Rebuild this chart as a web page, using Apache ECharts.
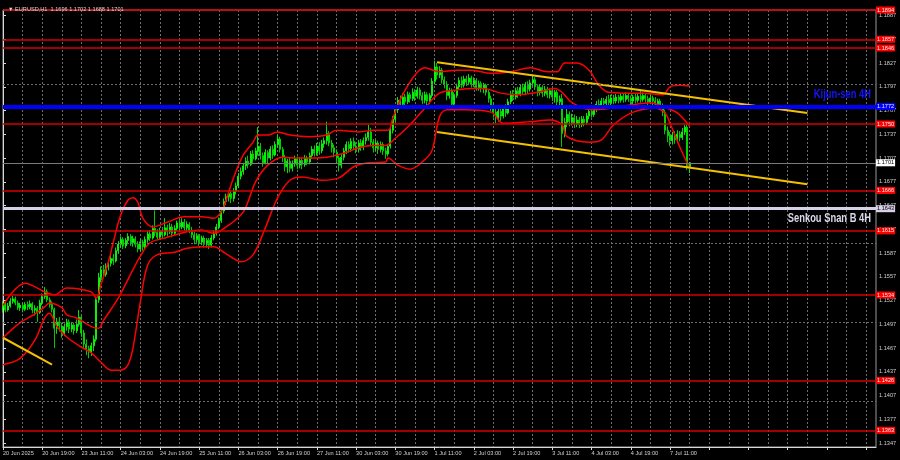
<!DOCTYPE html>
<html>
<head>
<meta charset="utf-8">
<script src="https://cdn.jsdelivr.net/npm/echarts@6/dist/echarts.min.js"></script>
<style>html,body{margin:0;padding:0;background:#000;}#c{width:900px;height:460px;}</style>
</head>
<body>
<div id="c"></div>
<script>
// ---- DATA (prices expressed in pips above 1.1000, i.e. 522 => 1.1522) ----
const SYMBOL_TITLE = 'EURUSD,H1';
const TIME_LABELS = ['20 Jun 2025','20 Jun 19:00','23 Jun 11:00','24 Jun 03:00','24 Jun 19:00','25 Jun 11:00','26 Jun 03:00','26 Jun 19:00','27 Jun 11:00','30 Jun 03:00','30 Jun 19:00','1 Jul 11:00','2 Jul 03:00','2 Jul 19:00','3 Jul 11:00','4 Jul 03:00','4 Jul 19:00','7 Jul 11:00'];
const PRICE_TICKS = [1.1887,1.1857,1.1827,1.1797,1.1767,1.1737,1.1707,1.1677,1.1647,1.1617,1.1587,1.1557,1.1527,1.1497,1.1467,1.1437,1.1407,1.1377,1.1347];
// candles: [open, close, low, high]
const CANDLES = [
[518,522,512,526],[522,515,512,525],[515,520,513,524],[520,526,518,530],[526,529,523,533],[529,524,521,532],[524,518,515,527],[518,521,514,524],
[521,516,512,524],[516,522,514,525],[522,519,515,526],[519,523,516,527],[523,515,511,525],[515,517,508,521],[517,512,500,520],[512,524,510,528],
[524,532,521,536],[532,538,529,544],[538,528,525,541],[528,522,518,531],[522,516,512,526],[516,492,467,518],[492,500,485,505],[500,495,488,506],
[495,486,480,499],[486,494,482,498],[494,500,489,504],[500,491,486,503],[491,496,487,500],[496,489,484,499],[489,497,486,503],[497,506,494,515],
[506,486,481,508],[486,472,466,490],[472,466,458,478],[466,462,454,470],[462,470,457,474],[470,478,463,483],[478,528,475,531],[528,556,524,562],
[556,566,550,570],[566,560,556,572],[560,570,557,574],[570,574,565,578],[574,580,570,585],[580,577,572,586],[577,590,575,594],[590,598,586,602],
[598,604,594,608],[604,596,592,607],[596,603,593,606],[603,608,598,612],[608,600,596,611],[600,605,595,609],[605,598,594,608],[598,592,588,602],
[592,601,589,605],[601,595,590,604],[595,604,592,608],[604,611,600,615],[611,606,602,616],[606,618,604,622],[618,613,608,641],[613,607,603,617],
[607,615,604,619],[615,610,605,620],[610,619,608,631],[619,614,608,623],[614,620,611,625],[620,612,607,624],[612,618,609,622],[618,625,615,628],
[625,620,614,629],[620,626,617,631],[626,619,615,630],[619,623,615,627],[623,616,612,626],[616,610,606,620],[610,604,598,614],[604,609,600,612],
[609,601,596,611],[601,606,597,609],[606,598,594,609],[598,603,594,606],[603,597,592,606],[597,606,594,610],[606,612,603,616],[612,620,609,624],
[620,628,617,632],[628,640,625,644],[640,652,637,656],[652,658,648,662],[658,662,652,666],[662,656,650,665],[656,665,652,669],[665,672,661,676],
[672,684,669,688],[684,690,680,695],[690,697,686,701],[697,703,692,708],[703,699,694,710],[699,712,697,716],[712,706,701,717],[706,716,704,720],
[716,722,710,746],[722,710,705,726],[710,701,696,714],[701,714,699,718],[714,707,700,717],[707,718,704,722],[718,711,706,723],[711,724,709,728],
[724,731,720,736],[731,718,714,734],[718,708,702,721],[708,696,690,711],[696,703,688,706],[703,694,689,707],[694,700,690,704],[700,706,696,710],
[706,698,693,709],[698,704,694,708],[704,699,693,707],[699,707,696,711],[707,702,698,710],[702,710,699,714],[710,718,706,722],[718,713,709,723],
[713,722,710,726],[722,716,711,727],[716,725,713,730],[725,729,720,733],[729,738,724,753],[738,726,722,741],[726,720,714,730],[720,714,708,724],
[714,707,700,718],[707,698,690,710],[698,708,694,712],[708,716,704,720],[716,724,712,728],[724,719,714,728],[719,728,715,732],[728,722,717,733],
[722,718,713,727],[718,726,714,730],[726,721,716,731],[721,729,717,733],[729,733,724,738],[733,740,729,749],[740,727,722,745],[727,720,714,731],
[720,726,716,730],[726,718,712,729],[718,724,714,728],[724,716,711,727],[716,712,706,720],[712,722,709,725],[722,742,719,746],[742,756,738,760],
[756,768,752,772],[768,780,764,784],[780,775,770,786],[775,784,772,789],[784,778,773,788],[778,787,775,791],[787,782,777,790],[782,790,779,795],
[790,785,779,794],[785,793,782,797],[793,786,781,796],[786,780,775,790],[780,787,776,791],[787,779,774,790],[779,786,775,789],[786,804,783,808],
[804,822,800,830],[822,812,806,827],[812,818,808,823],[818,806,801,821],[806,800,795,810],[800,786,780,804],[786,792,782,796],[792,775,768,795],
[775,786,772,790],[786,797,783,801],[797,805,793,809],[805,799,795,810],[799,807,796,811],[807,803,798,811],[803,808,799,813],[808,800,796,811],
[800,805,797,809],[805,796,792,808],[796,801,792,805],[801,795,790,804],[795,799,789,802],[799,790,786,801],[790,782,777,793],[782,772,766,786],
[772,765,758,777],[765,758,751,769],[758,766,753,770],[766,760,754,770],[760,770,757,774],[770,764,759,775],[764,778,762,782],[778,788,775,792],
[788,784,779,793],[784,792,781,796],[792,788,783,797],[788,796,785,800],[796,791,787,801],[791,799,788,803],[799,794,789,804],[794,802,791,806],
[802,806,798,812],[806,797,793,809],[797,790,785,800],[790,796,786,800],[796,789,784,799],[789,794,785,798],[794,787,783,797],[787,792,782,795],
[792,784,779,795],[784,790,777,793],[790,778,773,793],[778,782,772,786],[782,738,721,788],[738,752,733,758],[752,762,746,770],[762,753,747,766],
[753,758,748,763],[758,750,745,762],[750,755,746,760],[755,749,745,759],[749,756,746,760],[756,752,747,760],[752,760,749,764],[760,766,756,770],
[766,762,758,771],[762,769,759,773],[769,775,765,779],[775,771,768,781],[771,779,768,783],[779,776,771,783],[776,781,772,785],[781,777,772,787],
[777,783,773,787],[783,779,775,787],[779,784,776,788],[784,780,776,787],[780,785,777,789],[785,781,777,788],[781,786,778,790],[786,782,778,789],
[782,779,774,786],[779,784,775,787],[784,780,776,788],[780,785,777,789],[785,781,777,792],[781,786,778,790],[786,782,777,789],[782,778,773,786],
[778,783,775,787],[783,779,774,786],[779,775,771,784],[775,779,772,782],[779,772,768,782],[772,765,760,776],[765,742,737,768],[742,735,727,747],
[735,729,722,740],[729,736,724,740],[736,730,725,741],[730,737,726,742],[737,733,728,741],[733,740,730,745],[740,746,736,749],[746,696,692,749],
[696,701,688,702]
];
// Bollinger-style bands read at sample bars: [bar index, pips]
const BAND_UPPER = [[0,521],[9,549],[17,538],[21,534],[26,543],[36,538],[38,530],[40,548],[43,576],[45,601],[48,635],[51,654],[53,657],[55,651],[57,631],[61,620],[67,626],[74,633],[81,633],[86,631],[89,639],[91,654],[94,682],[98,711],[102,727],[104,736],[108,736],[112,740],[117,736],[125,734],[132,736],[136,742],[145,740],[151,742],[157,742],[159,758],[163,787],[168,812],[172,821],[178,816],[185,818],[191,818],[199,814],[207,816],[215,821],[222,816],[226,816],[229,827],[234,827],[239,818],[243,799],[247,790],[253,789],[261,789],[269,787],[272,797],[276,799],[280,798]];
const BAND_MIDDLE = [[0,480],[7,499],[13,510],[17,519],[19,524],[24,518],[26,509],[30,505],[36,494],[39,492],[41,502],[47,530],[53,566],[56,583],[60,600],[67,607],[75,614],[81,616],[86,612],[91,620],[98,639],[103,677],[108,698],[114,708],[120,707],[126,707],[132,708],[139,713],[145,720],[151,723],[156,723],[160,732],[166,749],[172,770],[178,789],[185,793],[191,795],[196,795],[203,789],[210,787],[218,790],[225,795],[228,790],[232,777],[240,768],[248,770],[256,774],[264,777],[270,771],[275,764],[280,747]];
const BAND_LOWER = [[0,446],[7,454],[13,477],[17,505],[19,511],[22,494],[26,481],[32,468],[36,461],[40,449],[44,439],[48,439],[51,446],[53,467],[56,525],[59,572],[63,585],[70,588],[75,593],[81,595],[86,595],[90,588],[93,582],[97,576],[102,585],[107,619],[112,657],[117,679],[122,683],[130,679],[137,682],[143,696],[149,701],[156,702],[157,707],[161,698],[166,693],[172,705],[175,717],[178,759],[181,768],[188,768],[199,765],[204,751],[215,753],[223,755],[228,749],[230,734],[239,727],[244,730],[249,749],[257,765],[266,770],[270,764],[272,751],[276,721],[280,694]];
// trend lines: [bar index, pips]
const TREND_UPPER = [[177,828],[328,764]];
const TREND_LOWER = [[177,740],[328,674]];
const TREND_LEFT = [[0,480],[20,446]];
// horizontal levels
const RED_LEVELS = [1.1894,1.1857,1.1846,1.1750,1.1666,1.1615,1.1534,1.1426,1.1363];
const KIJUN_LEVEL = 1.1772;
const KIJUN_TEXT = 'Kijun-sen 4H';
const SENKOU_LEVEL = 1.1643;
const SENKOU_TEXT = 'Senkou Snan B 4H';
const BID_LEVEL = 1.1701;

// ---- chart ----
const N_SLOTS = 357; // bar slots incl. right-side shift area
const P = v => +(1.1 + v / 10000).toFixed(4);
const cats = Array.from({length: N_SLOTS}, (_, i) => String(i));
const candleData = CANDLES.map(r => r.map(P));
const last = CANDLES[CANDLES.length - 1];
const titleText = '\u25BC ' + SYMBOL_TITLE + '  ' + [last[0], last[3], last[2], last[1]].map(v => P(v).toFixed(4)).join(' ');
const pts = arr => arr.map(p => [p[0], P(p[1])]);

const SMALL = 5.6;
const FONT = "'Liberation Sans', Arial, sans-serif";

const levelLabel = (bg, fg) => ({show: true, position: 'end', distance: 0, backgroundColor: bg, color: fg,
  fontSize: SMALL, fontFamily: FONT, padding: [1, 1, 0, 1], formatter: p => p.value.toFixed(4)});

const chart = echarts.init(document.getElementById('c'), null, {renderer: 'canvas'});
chart.setOption({
  backgroundColor: '#000000',
  animation: false,
  title: {text: titleText, left: 3, top: 1,
    textStyle: {color: '#d8d8d8', fontSize: SMALL, fontWeight: 'normal', fontFamily: FONT}},
  grid: {left: 1.5, right: 24, top: 10, bottom: 13, show: true, borderColor: '#9a9a9a', borderWidth: 1},
  xAxis: [
    {type: 'category', data: cats, boundaryGap: false,
      axisLine: {lineStyle: {color: '#d8d8d8', width: 1}},
      axisTick: {show: true, interval: 15, length: 3, lineStyle: {color: '#d8d8d8'}},
      axisLabel: {interval: 15, align: 'left', margin: 3, color: '#d0d0d0', fontSize: SMALL, fontFamily: FONT,
        formatter: (v, i) => (i % 16 === 0 && TIME_LABELS[i / 16]) ? TIME_LABELS[i / 16] : ''},
      splitLine: {show: true, interval: 7, lineStyle: {color: '#6e6e6e', width: 1, type: [2, 2]}}},
    {type: 'value', min: 0, max: N_SLOTS - 1, show: false}
  ],
  yAxis: {type: 'value', position: 'right', min: 1.1342, max: 1.1894, scale: true,
    axisLine: {show: true, lineStyle: {color: '#d8d8d8', width: 1}},
    axisTick: {show: true, customValues: PRICE_TICKS, length: 3, lineStyle: {color: '#d8d8d8'}},
    axisLabel: {customValues: PRICE_TICKS, margin: 3, color: '#d0d0d0', fontSize: SMALL, fontFamily: FONT,
      formatter: v => v.toFixed(4)},
    splitLine: {show: false}},
  series: [
    {name: 'grid', type: 'line', xAxisIndex: 1, data: [], z: 1, silent: true,
      markLine: {silent: true, symbol: ['none', 'none'], label: {show: false},
        lineStyle: {color: '#6e6e6e', width: 1, type: [2, 2]},
        data: PRICE_TICKS.map(p => ({yAxis: p}))}},
    {name: 'EURUSD', type: 'candlestick', data: candleData, z: 3, barWidth: 1.5, clip: false,
      itemStyle: {color: '#c0ffc0', color0: '#00c000', borderColor: '#00ff00', borderColor0: '#00e000', borderWidth: 0.9}},
    {name: 'upper', type: 'line', xAxisIndex: 1, data: pts(BAND_UPPER), smooth: 0.35, symbol: 'none', z: 4,
      lineStyle: {color: '#ff0000', width: 1.5}},
    {name: 'middle', type: 'line', xAxisIndex: 1, data: pts(BAND_MIDDLE), smooth: 0.35, symbol: 'none', z: 4,
      lineStyle: {color: '#ff0000', width: 1.5}},
    {name: 'lower', type: 'line', xAxisIndex: 1, data: pts(BAND_LOWER), smooth: 0.35, symbol: 'none', z: 4,
      lineStyle: {color: '#ff0000', width: 1.5}},
    {name: 'trendUpper', type: 'line', xAxisIndex: 1, data: pts(TREND_UPPER), symbol: 'none', z: 4,
      lineStyle: {color: '#f2c200', width: 2}},
    {name: 'trendLower', type: 'line', xAxisIndex: 1, data: pts(TREND_LOWER), symbol: 'none', z: 4,
      lineStyle: {color: '#f2c200', width: 2}},
    {name: 'trendLeft', type: 'line', xAxisIndex: 1, data: pts(TREND_LEFT), symbol: 'none', z: 4,
      lineStyle: {color: '#f2c200', width: 2}},
    {name: 'levels', type: 'line', xAxisIndex: 1, data: [], z: 5, silent: true,
      markLine: {silent: true, symbol: ['none', 'none'], precision: 4,
        data: [
          ...RED_LEVELS.map(p => ({yAxis: p, lineStyle: {color: '#d80000', width: 1.6, type: 'solid'}, label: levelLabel('#ff0000', '#ffecec')})),
          {yAxis: BID_LEVEL, lineStyle: {color: '#7a7a7a', width: 1, type: 'solid'}, label: levelLabel('#ffffff', '#000000')},
          {yAxis: SENKOU_LEVEL, lineStyle: {color: '#d6cfe6', width: 3, type: 'solid'}, label: levelLabel('#d6cfe6', '#000000')},
          {yAxis: KIJUN_LEVEL, lineStyle: {color: '#0000ff', width: 4, type: 'solid'}, label: levelLabel('#0000ff', '#e8e8ff')}
        ]}}
  ]
});

// Text annotations anchored to their level lines through the chart's own scales
const kPix = chart.convertToPixel({seriesIndex: 2}, [N_SLOTS - 1, KIJUN_LEVEL]);
const sPix = chart.convertToPixel({seriesIndex: 2}, [N_SLOTS - 1, SENKOU_LEVEL]);
chart.setOption({
  graphic: [
    {type: 'text', z: 100, x: kPix[0] - 5, y: kPix[1] - 6, scaleX: 0.72,
      style: {text: KIJUN_TEXT, fill: '#1414ff', font: "bold 13px " + FONT, align: 'right', verticalAlign: 'bottom'}},
    {type: 'text', z: 100, x: sPix[0] - 5, y: sPix[1] + 3, scaleX: 0.72,
      style: {text: SENKOU_TEXT, fill: '#dcd8ec', font: "bold 13px " + FONT, align: 'right', verticalAlign: 'top'}}
  ]
});
</script>
</body>
</html>
